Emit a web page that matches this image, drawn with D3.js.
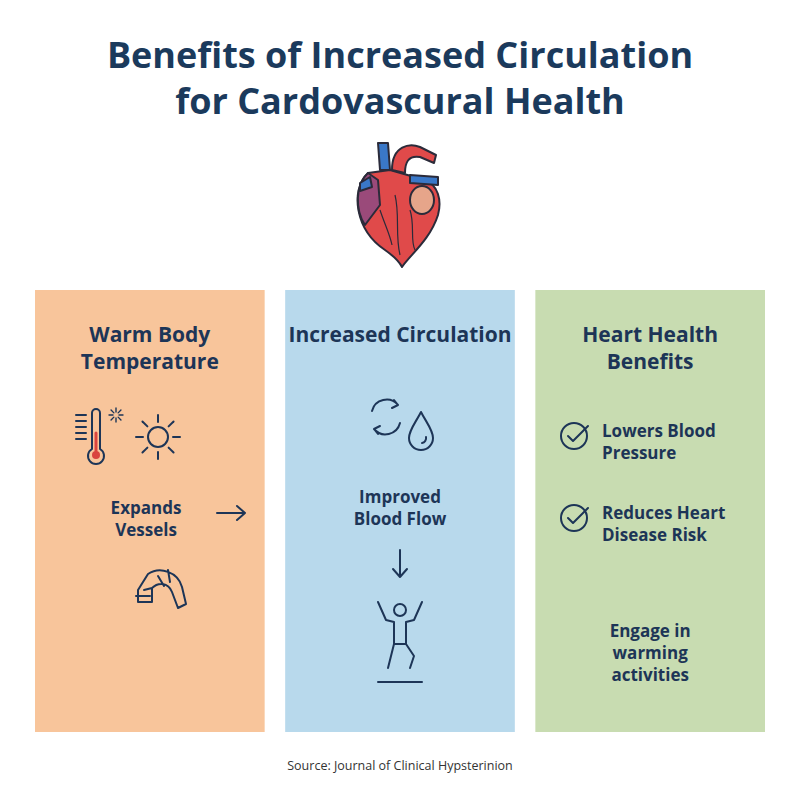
<!DOCTYPE html>
<html><head><meta charset="utf-8">
<script src="https://cdn.jsdelivr.net/npm/d3@7"></script>
<style>body{margin:0;background:#fff}</style></head>
<body><svg id="c" width="800" height="800"></svg>
<script>
const titleLines = ["Benefits of Increased Circulation","for Cardovascural Health"];
const panelNames = ["warm","circ","heart"];
const panelTitles = [["Warm Body","Temperature"],["Increased Circulation"],["Heart Health","Benefits"]];
const panelColors = ["#f8c59b","#b8d9ec","#c8dcb1"];
const source = "Source: Journal of Clinical Hypsterinion";
const ink = "#1d3557";

const svg = d3.select("#c");
svg.append("rect").attr("width",800).attr("height",800).attr("fill","#fff");
const x = d3.scaleBand().domain(panelNames).range([35,765]).paddingInner(0.082);

svg.selectAll(".t").data(titleLines).join("text")
 .attr("x",400).attr("y",(d,i)=>68+i*46).attr("text-anchor","middle")
 .attr("font-family","Open Sans, sans-serif").attr("font-weight",700).attr("font-size",36)
 .attr("fill","#1b3a5c").text(d=>d);

// heart
const h = svg.append("g").attr("transform","translate(400,205)").attr("stroke","#2b2b3a").attr("stroke-width",2).attr("stroke-linejoin","round");
h.append("path").attr("d","M-32,-32 C-50,-15 -45,25 -15,45 C-5,52 0,58 2,62 C10,50 30,35 38,10 C42,-5 38,-20 25,-25 L-10,-35 Z").attr("fill","#e04a4a");
h.append("path").attr("d","M-32,-32 C-45,-20 -45,5 -35,20 L-20,0 L-22,-25 Z").attr("fill","#9a4a7a");
h.append("path").attr("d","M-20,-35 L-22,-62 L-12,-62 L-10,-35 Z").attr("fill","#3a78c8");
h.append("path").attr("d","M-8,-35 C-8,-60 10,-62 20,-58 L36,-50 L34,-42 L20,-48 C8,-50 5,-42 5,-32 Z").attr("fill","#e04a4a");
h.append("path").attr("d","M10,-30 L38,-28 L38,-20 L10,-22 Z").attr("fill","#3a78c8");
h.append("path").attr("d","M-40,-22 L-30,-28 L-28,-18 L-40,-14 Z").attr("fill","#3a78c8");
h.append("ellipse").attr("cx",22).attr("cy",-5).attr("rx",12).attr("ry",14).attr("fill","#e6a58a");
h.append("path").attr("fill","none").attr("stroke-width",1.2).attr("d","M-5,-10 C0,10 -5,30 0,50 M10,5 C15,20 10,35 15,45 M-20,5 C-15,20 -10,30 -8,40");

// panels
svg.selectAll(".p").data(panelNames).join("rect")
 .attr("x",d=>x(d)).attr("y",290).attr("width",x.bandwidth()).attr("height",442)
 .attr("fill",(d,i)=>panelColors[i]);

const txt=(lines,cx,y,size,lh,weight,anchor)=>{
 const t=svg.append("text").attr("x",cx).attr("y",y).attr("text-anchor",anchor||"middle")
  .attr("font-family","Open Sans, sans-serif").attr("font-weight",weight||700).attr("font-size",size).attr("fill",ink);
 lines.forEach((l,i)=>t.append("tspan").attr("x",cx).attr("dy",i?lh:0).text(l));
};
panelNames.forEach((d,i)=>{
 const cx=x(d)+x.bandwidth()/2;
 txt(panelTitles[i],cx,342,21,27,700);
});
const cx0=x("warm")+x.bandwidth()/2, cx1=x("circ")+x.bandwidth()/2, cx2=x("heart")+x.bandwidth()/2;
const ln=()=>svg.append("g").attr("fill","none").attr("stroke",ink).attr("stroke-width",2).attr("stroke-linecap","round").attr("stroke-linejoin","round");

// thermometer + sun
let g=ln().attr("transform","translate(96,437)");
g.append("path").attr("d","M-4,-24 A4,4 0 0 1 4,-24 L4,12 A8,8 0 1 1 -4,12 Z");
g.append("circle").attr("cx",0).attr("cy",18).attr("r",4).attr("fill","#d9443f").attr("stroke","none");
g.append("path").attr("d","M0,14 L0,-4").attr("stroke","#d9443f").attr("stroke-width",3);
g.append("path").attr("d","M-20,-22 H-10 M-20,-16 H-10 M-20,-10 H-10 M-20,-4 H-10 M-20,2 H-10");
g.append("g").attr("transform","translate(20,-22)").attr("stroke-width",1.4).selectAll("path").data(d3.range(8)).join("path")
 .attr("d",k=>{const a=k*Math.PI/4;return `M${3*Math.cos(a)},${3*Math.sin(a)}L${7*Math.cos(a)},${7*Math.sin(a)}`});
g=ln().attr("transform","translate(158,437)");
g.append("circle").attr("r",10);
g.selectAll("line").data(d3.range(8)).join("line")
 .attr("x1",k=>15*Math.cos(k*Math.PI/4)).attr("y1",k=>15*Math.sin(k*Math.PI/4))
 .attr("x2",k=>22*Math.cos(k*Math.PI/4)).attr("y2",k=>22*Math.sin(k*Math.PI/4));
txt(["Expands","Vessels"],146,514,17,22);
g=ln(); g.append("path").attr("d","M217,513 H245 M237,506 L245,513 L237,520");
g=ln().attr("transform","translate(160,592)");
g.append("path").attr("d","M-22,-2 L-12,-18 C0,-26 18,-20 22,-5 L26,12 L18,16 L12,0 C8,-10 -2,-10 -8,-4 L-8,10 L-22,10 Z M-16,-2 L-8,-4 M-2,-16 L4,-6 M8,-22 L10,-10 M-24,4 L-10,4");

// circulation icons
g=ln().attr("transform","translate(386,417)");
g.append("path").attr("d","M-14,-6 A15,15 0 0 1 12,-12 M8,-17 L12,-12 L6,-9");
g.append("path").attr("d","M14,6 A15,15 0 0 1 -12,12 M-8,17 L-12,12 L-6,9");
g=ln().attr("transform","translate(421,432)");
g.append("path").attr("d","M0,-20 C5,-10 12,-2 12,6 A12,12 0 0 1 -12,6 C-12,-2 -5,-10 0,-20 Z M5,5 A5,5 0 0 1 1,11");
txt(["Improved","Blood Flow"],cx1,503,17,22);
g=ln(); g.append("path").attr("d",`M${cx1},550 V577 M${cx1-7},569 L${cx1},577 L${cx1+7},569`);
g=ln().attr("transform",`translate(${cx1},640)`);
g.append("circle").attr("cy",-30).attr("r",6);
g.append("path").attr("d","M-22,-38 L-14,-20 L-6,-18 L-6,4 L-12,28 M22,-38 L14,-20 L6,-18 L6,4 L14,16 L10,28 M-6,4 H6");
g.append("path").attr("d","M-22,42 H22");

// checks
[[430,["Lowers Blood","Pressure"]],[512,["Reduces Heart","Disease Risk"]]].forEach(([y,l])=>{
 g=ln().attr("transform",`translate(574,${y+6})`);
 g.append("circle").attr("r",13);
 g.append("path").attr("d","M-6,0 L-1,5 L14,-10");
 txt(l,602,y+7,17,22,700,"start");
});
txt(["Engage in","warming","activities"],cx2,637,17,22);

svg.append("text").attr("x",400).attr("y",770).attr("text-anchor","middle")
 .attr("font-family","Open Sans, sans-serif").attr("font-size",12.5).attr("fill","#333").text(source);
</script></body></html>
